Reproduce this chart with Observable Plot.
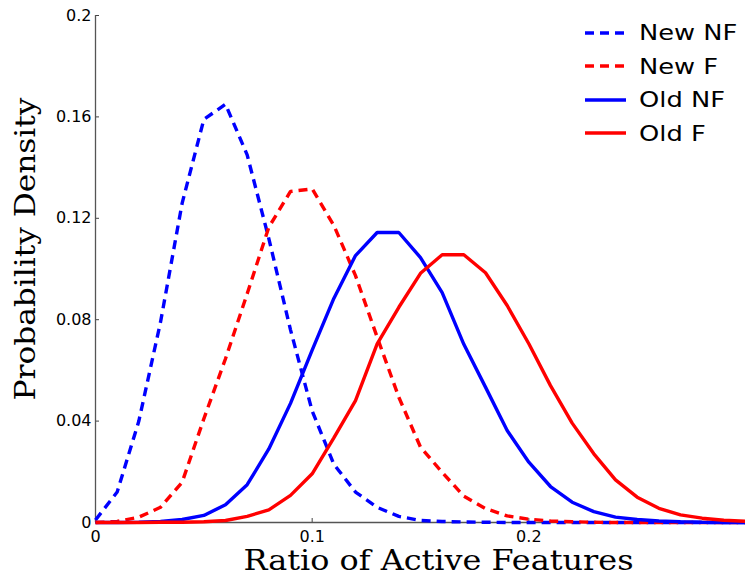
<!DOCTYPE html>
<html>
<head>
<meta charset="utf-8">
<script src="https://cdn.jsdelivr.net/npm/d3@7"></script>
<script src="https://cdn.jsdelivr.net/npm/@observablehq/plot@0.6"></script>
<style>
  html, body { margin: 0; padding: 0; background: #fff; }
  #wrap { position: relative; width: 745px; height: 578px; }
  #legend { position: absolute; left: 583px; top: 16px; font-family: "DejaVu Sans", sans-serif; font-size: 22px; color: #000; }
  .row { display: flex; align-items: center; height: 33.5px; }
  .row svg { width: 44px; height: 10px; margin-right: 12px; flex: none; }
  .row span { display: inline-block; transform: scaleX(1.17); transform-origin: left center; white-space: nowrap; }
</style>
</head>
<body>
<div id="wrap"><div id="legend"></div></div>
<script>
const ratio = [0, 0.01, 0.02, 0.03, 0.04, 0.05, 0.06, 0.07, 0.08, 0.09, 0.10,
  0.11, 0.12, 0.13, 0.14, 0.15, 0.16, 0.17, 0.18, 0.19, 0.20,
  0.21, 0.22, 0.23, 0.24, 0.25, 0.26, 0.27, 0.28, 0.29, 0.30];
const newNF = [0.001, 0.012, 0.040, 0.079, 0.126, 0.159, 0.165, 0.145, 0.112, 0.076, 0.044,
  0.023, 0.012, 0.006, 0.0024, 0.0008, 0.0004, 0.0002, 0.0001, 0, 0,
  0, 0, 0, 0, 0, 0, 0, 0, 0, 0];
const newF = [0, 0.0004, 0.0021, 0.006, 0.0159, 0.0409, 0.0646, 0.0902, 0.1165, 0.1306, 0.1316,
  0.1172, 0.0974, 0.0731, 0.0494, 0.0297, 0.0198, 0.0104, 0.0055, 0.0026, 0.0013,
  0.0006, 0.0003, 0.0001, 0, 0, 0, 0, 0, 0, 0];
const oldNF = [0, 0, 0.0001, 0.0004, 0.0012, 0.0028, 0.007, 0.0149, 0.029, 0.047, 0.068,
  0.0884, 0.1053, 0.1144, 0.1144, 0.1045, 0.0907, 0.0703, 0.0534, 0.0363, 0.0238,
  0.0142, 0.008, 0.0043, 0.0021, 0.0012, 0.0006, 0.0003, 0.0001, 0, 0];
const oldF = [0, 0, 0, 0.0001, 0.0001, 0.0003, 0.0008, 0.0024, 0.005, 0.0107, 0.0192,
  0.0334, 0.0481, 0.0705, 0.0849, 0.0983, 0.1056, 0.1056, 0.0985, 0.0856, 0.0705,
  0.054, 0.0392, 0.0271, 0.0168, 0.01, 0.0056, 0.003, 0.0017, 0.0009, 0.0005];

const seriesNames = ["New NF", "New F", "Old NF", "Old F"];
const seriesValues = [newNF, newF, oldNF, oldF];
const seriesColors = ["#0000ff", "#ff0000", "#0000ff", "#ff0000"];
const seriesDashed = [true, true, false, false];

const xTicks = [0, 0.1, 0.2];
const xTickLabels = ["0", "0.1", "0.2"];
const yTicks = [0, 0.04, 0.08, 0.12, 0.16, 0.2];
const yTickLabels = ["0", "0.04", "0.08", "0.12", "0.16", "0.2"];
const xTitle = "Ratio of Active Features";
const yTitle = "Probability Density";

const DASH = "9,6";

const lines = seriesNames.map((name, i) =>
  Plot.line(ratio.map((r, j) => ({ratio: r, value: seriesValues[i][j]})), {
    x: "ratio", y: "value",
    stroke: seriesColors[i], strokeWidth: 3.4,
    strokeDasharray: seriesDashed[i] ? DASH : null,
    strokeLinecap: "butt", strokeLinejoin: "miter"
  })
);

const chart = Plot.plot({
  width: 745, height: 578,
  marginLeft: 95, marginRight: 0, marginTop: 15, marginBottom: 56,
  style: {fontFamily: "DejaVu Sans, sans-serif", fontSize: "16px", background: "#fff", color: "#000"},
  x: {domain: [0, 0.3]},
  y: {domain: [0, 0.2]},
  marks: [
    Plot.axisX({ticks: xTicks, tickFormat: (d, i) => xTickLabels[i], tickSize: 0, tickPadding: 8, label: null, fontSize: 16}),
    Plot.axisX({ticks: xTicks, text: null, tickSize: 4, dy: -4, stroke: "#444", label: null}),
    Plot.axisY({ticks: yTicks, tickFormat: (d, i) => yTickLabels[i], tickSize: 0, tickPadding: 4, label: null, fontSize: 16}),
    Plot.axisY({ticks: yTicks, text: null, tickSize: 4, dx: 4, stroke: "#444", label: null}),
    Plot.ruleX([0], {stroke: "#555", strokeWidth: 1.3}),
    Plot.ruleY([0], {stroke: "#555", strokeWidth: 1.3}),
    ...lines,
    Plot.text([xTitle], {frameAnchor: "bottom", textAnchor: "middle", lineAnchor: "bottom", dx: 18, dy: 47, fontSize: 27, fontFamily: "DejaVu Serif, serif", fill: "#000", className: "xtitle"}),
    Plot.text([yTitle], {frameAnchor: "left", textAnchor: "middle", lineAnchor: "middle", dx: -69, dy: -20, rotate: -90, fontSize: 28, fontFamily: "DejaVu Serif, serif", fill: "#000", className: "ytitle"})
  ]
});
document.getElementById("wrap").prepend(chart);
chart.style.position = "absolute";
chart.style.left = "0";
chart.style.top = "0";

d3.select(chart).selectAll(".xtitle text").attr("textLength", 390).attr("lengthAdjust", "spacingAndGlyphs");
d3.select(chart).selectAll(".ytitle text").attr("textLength", 303).attr("lengthAdjust", "spacingAndGlyphs");

const legend = document.getElementById("legend");
seriesNames.forEach((name, i) => {
  const row = document.createElement("div");
  row.className = "row";
  row.innerHTML = `<svg viewBox="0 0 44 10"><line x1="2" x2="43" y1="5" y2="5" stroke="${seriesColors[i]}" stroke-width="3.4" ${seriesDashed[i] ? `stroke-dasharray="${DASH}"` : ""}/></svg><span>${name}</span>`;
  legend.appendChild(row);
});
</script>
</body>
</html>
